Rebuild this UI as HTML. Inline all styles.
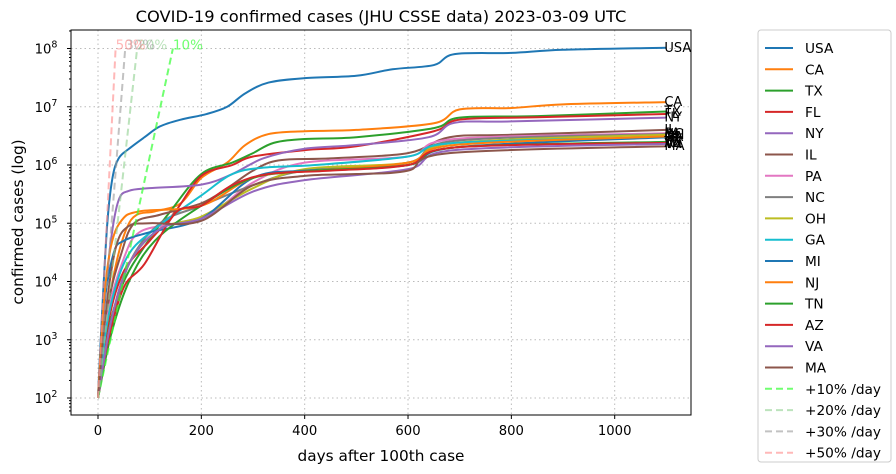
<!DOCTYPE html>
<html><head><meta charset="utf-8"><style>
html,body{margin:0;padding:0;background:#fff;width:896px;height:474px;overflow:hidden}
svg{font-family:"DejaVu Sans","Liberation Sans",sans-serif}
</style></head><body>
<svg id="s" width="896" height="474" xmlns="http://www.w3.org/2000/svg">
<defs><clipPath id="cp"><rect x="71" y="30" width="620" height="385"/></clipPath></defs>
<rect width="896" height="474" fill="#fff"/>
<g id="grid"></g>
<g id="ser" clip-path="url(#cp)"></g>
<g id="lab"></g>
<rect x="71" y="30" width="620" height="385" fill="none" stroke="#000" stroke-width="1"/>
<g id="ax" font-size="13.2"></g>
<text x="381" y="22" text-anchor="middle" font-size="16.3">COVID-19 confirmed cases (JHU CSSE data) 2023-03-09 UTC</text>
<text x="381" y="461" text-anchor="middle" font-size="15.3">days after 100th case</text>
<text transform="translate(23,222) rotate(-90)" text-anchor="middle" font-size="15.3">confirmed cases (log)</text>
<rect x="758" y="30" width="133" height="432" rx="3" fill="#fff" stroke="#ccc"/>
<g id="leg" font-size="13.7"></g>
</svg>
<script>
const NS="http://www.w3.org/2000/svg";
function X(d){return 98+d*0.5167}
function Y(v){return 398-58.25*(Math.log10(v)-2)}
function el(p,t,a,txt){const e=document.createElementNS(NS,t);for(const k in a)e.setAttribute(k,a[k]);if(txt!==undefined)e.textContent=txt;document.getElementById(p).appendChild(e);return e}
[0,200,400,600,800,1000].forEach(d=>{el('grid','line',{x1:X(d),x2:X(d),y1:30,y2:415,stroke:'#bbb','stroke-dasharray':'1.5,3'});
 el('ax','line',{x1:X(d),x2:X(d),y1:415,y2:419,stroke:'#000'});el('ax','text',{x:X(d),y:435,'text-anchor':'middle'},d)});
for(let e=2;e<=8;e++){const y=Y(Math.pow(10,e));el('grid','line',{x1:71,x2:691,y1:y,y2:y,stroke:'#bbb','stroke-dasharray':'1.5,3'});
 el('ax','line',{x1:67,x2:71,y1:y,y2:y,stroke:'#000'});
 const t=el('ax','text',{x:46,y:y+5,'text-anchor':'middle'},'10');const ts=document.createElementNS(NS,'tspan');ts.setAttribute('dy','-6');ts.setAttribute('font-size','9.5');ts.textContent=e;t.appendChild(ts);}
for(let e=1;e<=8;e++)for(let m=2;m<=9;m++){const yy=Y(m*Math.pow(10,e));if(yy<30||yy>415)continue;el('ax','line',{x1:69,x2:71,y1:yy,y2:yy,stroke:'#000'})}
function path(pts){const P=pts.map(p=>[X(p[0]),Y(p[1])]);let d='M'+P[0][0]+','+P[0][1];
 for(let i=0;i<P.length-1;i++){const p0=P[i-1]||P[i],p1=P[i],p2=P[i+1],p3=P[i+2]||p2;
 const c1=[p1[0]+(p2[0]-p0[0])/6,p1[1]+(p2[1]-p0[1])/6],c2=[p2[0]-(p3[0]-p1[0])/6,p2[1]-(p3[1]-p1[1])/6];
 d+=` C${c1[0]},${c1[1]} ${c2[0]},${c2[1]} ${p2[0]},${p2[1]}`}return d}
const C=['#1f77b4','#ff7f0e','#2ca02c','#d62728','#9467bd','#8c564b','#e377c2','#7f7f7f','#bcbd22','#17becf'];
const S=[
['USA',[[0,100],[8,3000],[18,1e5],[28,6e5],[40,1.3e6],[60,1.9e6],[90,3e6],[120,4.6e6],[160,6e6],[210,7.5e6],[250,1e7],[285,1.7e7],[330,2.6e7],[400,3.1e7],[500,3.4e7],[570,4.4e7],[650,5.2e7],[690,8e7],[800,8.4e7],[900,9.5e7],[1100,1.03e8]]],
['CA',[[0,100],[15,2000],[35,2e4],[55,8e4],[75,1.4e5],[110,1.6e5],[160,2.2e5],[200,6e5],[250,1.1e6],[285,2.2e6],[330,3.4e6],[400,3.8e6],[500,4e6],[650,5.2e6],[700,9e6],[800,9.5e6],[900,1.1e7],[1100,1.2e7]]],
['TX',[[0,100],[20,1500],[50,1e4],[90,4e4],[140,1.6e5],[200,7e5],[260,1.1e6],[300,1.6e6],[340,2.4e6],[400,2.8e6],[500,3e6],[650,4.3e6],[700,6.5e6],[850,6.9e6],[1100,8.3e6]]],
['FL',[[0,100],[20,2000],[50,1.5e4],[100,5e4],[150,1.6e5],[200,6.5e5],[260,1e6],[300,1.4e6],[400,1.8e6],[500,2.1e6],[650,3.8e6],[700,6e6],[850,6.6e6],[1100,7.5e6]]],
['NY',[[0,100],[10,2e3],[25,5e4],[40,2.5e5],[60,3.6e5],[100,4e5],[200,4.6e5],[260,7e5],[320,1.3e6],[400,1.9e6],[500,2.2e6],[640,3e6],[690,5.3e6],[800,5.6e6],[1100,6.5e6]]],
['IL',[[0,100],[20,4000],[45,3e4],[70,1e5],[120,1.4e5],[200,2.2e5],[250,4e5],[300,8e5],[350,1.2e6],[450,1.3e6],[600,1.6e6],[680,3e6],[800,3.3e6],[1100,4e6]]],
['PA',[[0,100],[20,3000],[50,2.5e4],[80,7e4],[150,1e5],[220,1.5e5],[300,5e5],[400,1.1e6],[600,1.4e6],[690,2.8e6],[1100,3.5e6]]],
['NC',[[0,100],[25,1500],[60,2e4],[120,1e5],[200,2e5],[300,4.5e5],[400,8e5],[600,1.1e6],[690,2.6e6],[1100,3.4e6]]],
['OH',[[0,100],[25,2000],[60,2e4],[120,8e4],[200,1.3e5],[300,4e5],[400,8.5e5],[600,1.1e6],[690,2.4e6],[1100,3.3e6]]],
['GA',[[0,100],[20,2500],[55,2.5e4],[110,8e4],[200,3e5],[260,7e5],[320,9e5],[420,1e6],[600,1.4e6],[690,2.4e6],[1100,3e6]]],
['MI',[[0,100],[10,3e3],[30,3e4],[50,5e4],[100,7e4],[200,1.2e5],[300,6e5],[400,8e5],[600,1e6],[690,2e6],[1100,3e6]]],
['NJ',[[0,100],[12,5e3],[25,4e4],[45,1.1e5],[80,1.6e5],[200,2e5],[300,6e5],[420,8e5],[600,1.1e6],[690,2.2e6],[1100,3.1e6]]],
['TN',[[0,100],[25,1200],[60,1e4],[110,5e4],[200,2e5],[300,6e5],[420,8e5],[600,1e6],[690,2e6],[1100,2.5e6]]],
['AZ',[[0,100],[20,1000],[50,8e3],[90,2e4],[150,1.5e5],[200,2e5],[260,4.5e5],[330,7e5],[450,8e5],[600,1e6],[690,2e6],[1100,2.4e6]]],
['VA',[[0,100],[25,2000],[60,2e4],[120,8e4],[200,1.2e5],[300,3.5e5],[400,5.5e5],[600,8.5e5],[690,1.8e6],[1100,2.3e6]]],
['MA',[[0,100],[15,3000],[35,4e4],[60,9e4],[100,1e5],[200,1.1e5],[300,4.5e5],[400,6.5e5],[500,7e5],[600,8e5],[680,1.6e6],[1100,2.1e6]]]
];
S.forEach((s,i)=>{el('ser','path',{d:path(s[1]),fill:'none',stroke:C[i%10],'stroke-width':2});
 const last=s[1][s[1].length-1];el('lab','text',{x:X(last[0])-2,y:Y(last[1])+4,'font-size':13},s[0])});
const R=[[1.1,'#33ff33',0.7,'10%'],[1.2,'#8fd18f',0.6,'20%'],[1.3,'#999',0.6,'30%'],[1.5,'#ff8888',0.6,'50%']];
R.forEach(r=>{const dmax=Math.log(1e6)/Math.log(r[0]);
 el('ser','line',{x1:X(0),y1:Y(100),x2:X(dmax),y2:Y(1e8),stroke:r[1],'stroke-opacity':r[2],'stroke-width':2,'stroke-dasharray':'7,4'});
 el('lab','text',{x:X(dmax),y:Y(1e8)+1,'font-size':13.5,fill:r[1],'fill-opacity':r[2]},r[3])});
S.forEach((s,i)=>{const y=48+i*21.3;el('leg','line',{x1:765,x2:793,y1:y,y2:y,stroke:C[i%10],'stroke-width':2});el('leg','text',{x:805,y:y+5},s[0])});
R.forEach((r,j)=>{const y=48+(16+j)*21.3;el('leg','line',{x1:765,x2:793,y1:y,y2:y,stroke:r[1],'stroke-opacity':r[2],'stroke-width':2,'stroke-dasharray':'7,4'});el('leg','text',{x:805,y:y+5},'+'+r[3]+' /day')});
</script>
</body></html>
